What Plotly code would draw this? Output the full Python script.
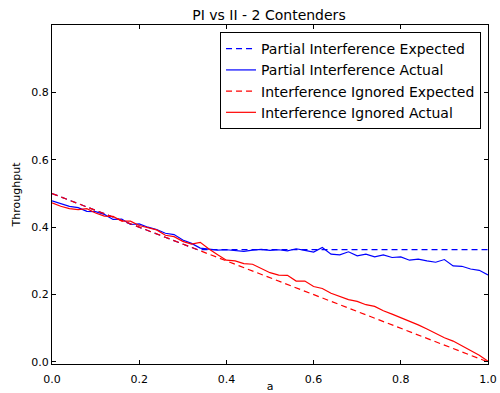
import plotly.graph_objects as go

a_vals = [round(i * 0.02, 2) for i in range(51)]

pi_expected_x = [0.0, 1/3, 1.0]
pi_expected_y = [0.5, 1/3, 1/3]

ii_expected_x = [0.0, 1.0]
ii_expected_y = [0.5, 0.0]

pi_actual = [0.478, 0.470, 0.462, 0.458, 0.447, 0.446, 0.438, 0.423, 0.424, 0.408,
             0.410, 0.400, 0.393, 0.382, 0.378, 0.362, 0.352, 0.338, 0.334, 0.332,
             0.333, 0.330, 0.328, 0.332, 0.334, 0.331, 0.333, 0.330, 0.336, 0.331,
             0.326, 0.340, 0.320, 0.318, 0.327, 0.315, 0.320, 0.312, 0.318, 0.310,
             0.312, 0.302, 0.305, 0.300, 0.296, 0.304, 0.285, 0.284, 0.276, 0.272,
             0.258]

ii_actual = [0.472, 0.462, 0.455, 0.452, 0.455, 0.442, 0.433, 0.432, 0.418, 0.418,
             0.405, 0.398, 0.392, 0.376, 0.372, 0.358, 0.350, 0.355, 0.335, 0.318,
             0.302, 0.300, 0.292, 0.290, 0.278, 0.265, 0.258, 0.257, 0.240, 0.240,
             0.224, 0.218, 0.204, 0.195, 0.185, 0.180, 0.170, 0.165, 0.152, 0.142,
             0.132, 0.122, 0.110, 0.098, 0.085, 0.072, 0.062, 0.048, 0.035, 0.020,
             0.002]

x_ticks = [0.0, 0.2, 0.4, 0.6, 0.8, 1.0]
y_ticks = [0.0, 0.2, 0.4, 0.6, 0.8]

FONT = "DejaVu Sans"
dash = "6px,4px"

fig = go.Figure()
fig.add_trace(go.Scatter(x=pi_expected_x, y=pi_expected_y, mode="lines",
                         name="Partial Interference Expected",
                         line=dict(color="#0000ff", width=1.2, dash=dash)))
fig.add_trace(go.Scatter(x=a_vals, y=pi_actual, mode="lines",
                         name="Partial Interference Actual",
                         line=dict(color="#0000ff", width=1.2)))
fig.add_trace(go.Scatter(x=ii_expected_x, y=ii_expected_y, mode="lines",
                         name="Interference Ignored Expected",
                         line=dict(color="#ff0000", width=1.2, dash=dash)))
fig.add_trace(go.Scatter(x=a_vals, y=ii_actual, mode="lines",
                         name="Interference Ignored Actual",
                         line=dict(color="#ff0000", width=1.2)))

axis_common = dict(showline=True, linecolor="black", linewidth=1, mirror="ticks",
                   ticks="inside", ticklen=4, tickcolor="black", showgrid=False,
                   zeroline=False, automargin=False,
                   tickfont=dict(family=FONT, size=11, color="black"))

fig.update_layout(
    width=500, height=393,
    margin=dict(l=52, r=12, t=25, b=29),
    paper_bgcolor="white", plot_bgcolor="white",
    font=dict(family=FONT, color="black"),
    title=dict(text="PI vs II - 2 Contenders", x=0.538, xanchor="center",
               y=1 - 15/393, yanchor="middle", font=dict(family=FONT, size=14, color="black")),
    xaxis=dict(range=[0, 1], tickvals=x_ticks, ticktext=[f"{v:.1f}" for v in x_ticks],
               ticklabelstandoff=5,
               title=dict(text="a", font=dict(family=FONT, size=11), standoff=2),
               **axis_common),
    yaxis=dict(range=[-0.006, 1.0], tickvals=y_ticks, ticktext=[f"{v:.1f}" for v in y_ticks],
               title=dict(text="Throughput", font=dict(family=FONT, size=11), standoff=8),
               **axis_common),
    legend=dict(x=0.984, xanchor="right", y=0.979, yanchor="top",
                bordercolor="black", borderwidth=1, bgcolor="white",
                font=dict(family=FONT, size=14, color="black"),
                tracegroupgap=0, itemwidth=30),
    showlegend=True,
)

fig.write_html("out.html")
